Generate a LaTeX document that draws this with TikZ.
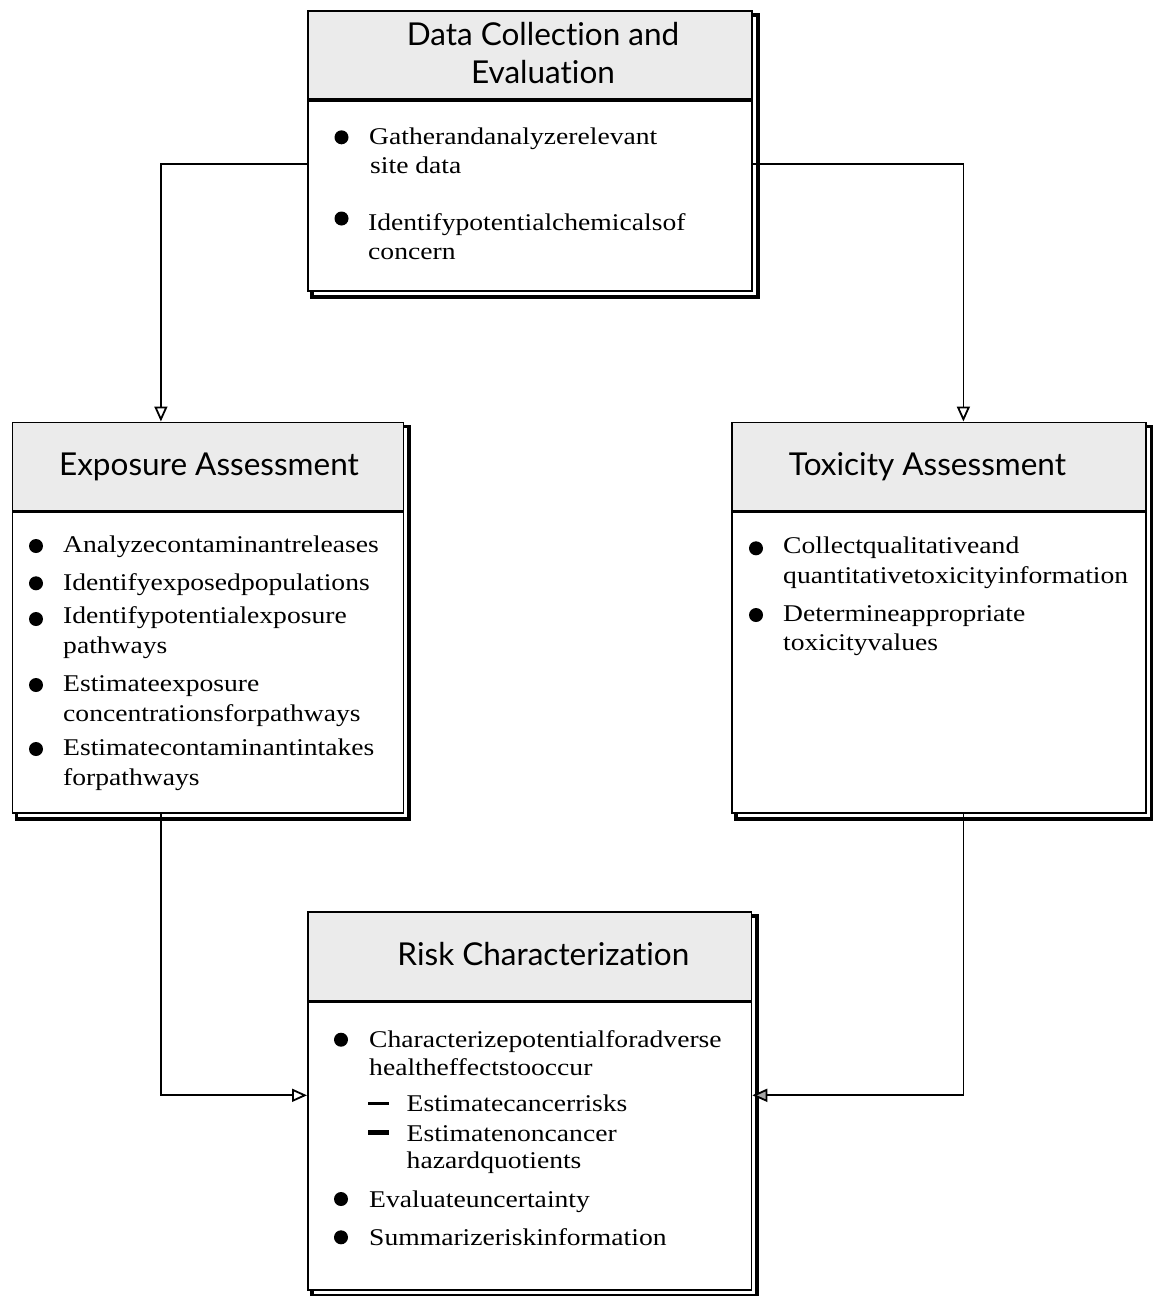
\documentclass[tikz,border=0pt]{standalone}
\usepackage{fontspec}
\setmainfont{Liberation Serif}
\newfontfamily\headfont[Ligatures=NoCommon]{Lato}
\newfontfamily\bodyfont[FakeStretch=1.15]{Liberation Serif}
\usetikzlibrary{arrows.meta,backgrounds}

\tikzset{
  headbox/.style={draw, line width=1.8pt, fill=black!8, anchor=north west, inner sep=0pt},
  bodybox/.style={draw, line width=1.8pt, fill=white, anchor=north west, inner sep=0pt},
  shadowframe/.style={draw, line width=3.8pt, fill=white},
  title/.style={anchor=base, inner sep=0pt, align=center, font=\headfont\fontsize{31.5}{37.6}\selectfont},
  txt/.style={anchor=base west, inner sep=0pt, font=\bodyfont\fontsize{24}{30}\selectfont},
  flow/.style={line width=1.8pt, -{Triangle[open, length=15pt, width=13pt]}},
  flowgray/.style={line width=1.8pt, -{Triangle[fill=black!35, length=15pt, width=13pt]}}
}

\begin{document}
\begin{tikzpicture}[x=1pt, y=-1pt]
  \useasboundingbox (0,0) rectangle (1152,1296);

  % boxes
  \node[headbox, minimum width=444pt, minimum height=88pt] (data-head) at (307,10) {};
  \node[bodybox, minimum width=444pt, minimum height=190pt] (data-body) at (data-head.south west) {};
  \node[headbox, minimum width=391pt, minimum height=88pt] (expo-head) at (11.5,421.5) {};
  \node[bodybox, minimum width=391pt, minimum height=300.5pt] (expo-body) at (expo-head.south west) {};
  \node[headbox, minimum width=414pt, minimum height=88pt] (toxi-head) at (731,421.5) {};
  \node[bodybox, minimum width=414pt, minimum height=300.5pt] (toxi-body) at (toxi-head.south west) {};
  \node[headbox, minimum width=443.5pt, minimum height=88.5pt] (risk-head) at (307,911) {};
  \node[bodybox, minimum width=443.5pt, minimum height=287.5pt] (risk-body) at (risk-head.south west) {};

  \begin{scope}[on background layer]
    \foreach \b in {data,expo,toxi,risk}
      \draw[shadowframe] ([shift={(5,5)}]\b-head.north west) rectangle ([shift={(5,5)}]\b-body.south east);
  \end{scope}

  % titles
  \node[title] (data-title) at (543,83.3) {Data Collection and\\Evaluation};
  \node[title] (expo-title) at (209,475) {Exposure Assessment};
  \node[title] (toxi-title) at (927.5,475) {Toxicity Assessment};
  \node[title] (risk-title) at (543.4,965) {Risk Characterization};

  % bullet texts
  \foreach \x/\y/\t [count=\i] in {369/144/Gatherandanalyzerelevant, 370/173.3/site data,
      368/230/Identifypotentialchemicalsof, 368/259.3/concern}
    \node[txt] (data-\i) at (\x,\y) {\t};
  \foreach \y/\t [count=\i] in {552.7/Analyzecontaminantreleases, 590/Identifyexposedpopulations,
      623.3/Identifypotentialexposure, 653.3/pathways, 691.7/Estimateexposure,
      721.7/concentrationsforpathways, 755/Estimatecontaminantintakes, 785/forpathways}
    \node[txt] (expo-\i) at (63,\y) {\t};
  \foreach \y/\t [count=\i] in {553.3/Collectqualitativeand, 583.3/quantitativetoxicityinformation,
      621.7/Determineappropriate, 650.7/toxicityvalues}
    \node[txt] (toxi-\i) at (783,\y) {\t};
  \foreach \x/\y/\t [count=\i] in {369/1047.7/Characterizepotentialforadverse, 369/1075/healtheffectstooccur,
      406.5/1111.7/Estimatecancerrisks, 406.5/1141/Estimatenoncancer, 406.5/1168.3/hazardquotients,
      369/1207.3/Evaluateuncertainty, 369/1245/Summarizeriskinformation}
    \node[txt] (risk-\i) at (\x,\y) {\t};

  % bullets and dashes
  \foreach \x/\y in {341.5/137.3, 341.5/218.5, 36/546, 36/583.3, 36/619, 36/685, 36/749,
      756/548.3, 756/615, 341/1039.7, 341/1199, 341/1237.3}
    \fill (\x,\y) circle (7pt);
  \fill (368,1102.3) rectangle (389,1104.5);
  \fill (368,1130.3) rectangle (389,1134.5);

  % connectors
  \draw[flow] ([yshift=-64pt]data-body.north west) -| ([xshift=-47pt]expo-head.north);
  \draw[flow] ([yshift=-64pt]data-body.north east) -| ([xshift=24.5pt]toxi-head.north);
  \draw[flow] ([xshift=-47pt]expo-body.south) |- ([yshift=-94pt]risk-body.north west);
  \draw[flowgray] ([xshift=24.5pt]toxi-body.south) |- ([yshift=-94pt]risk-body.north east);
\end{tikzpicture}
\end{document}
